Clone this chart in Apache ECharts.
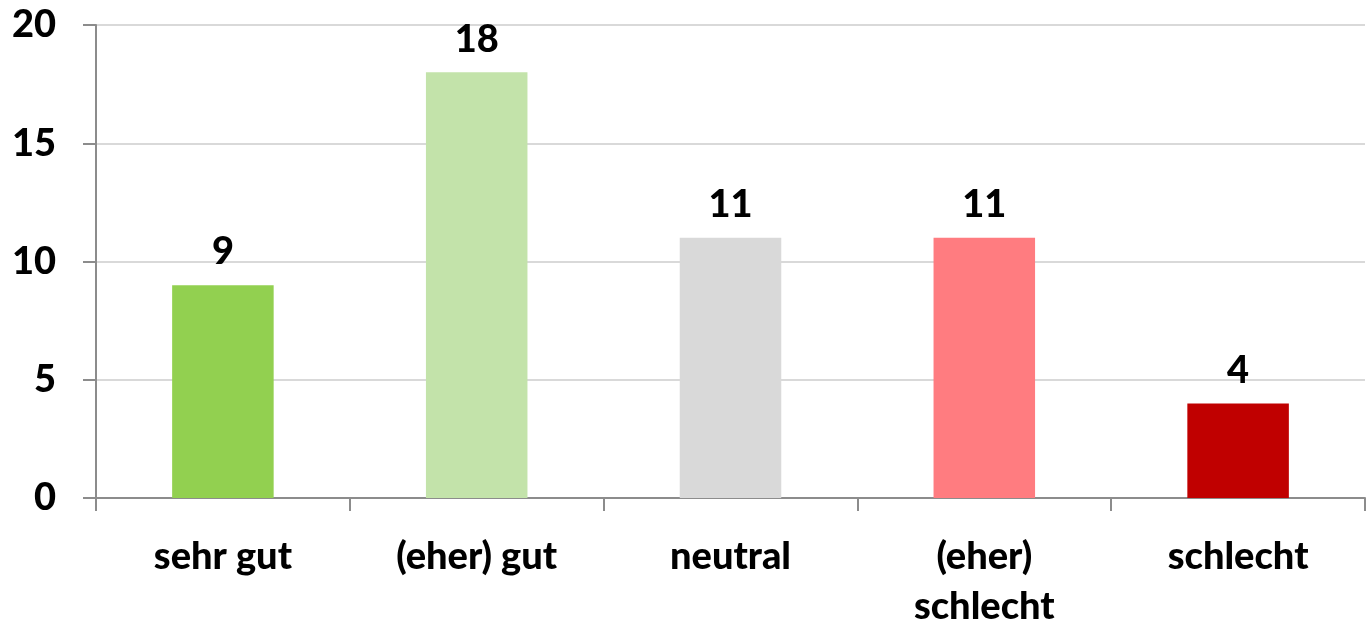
<!DOCTYPE html>
<html>
<head>
<meta charset="utf-8">
<script src="https://cdn.jsdelivr.net/npm/echarts@6/dist/echarts.min.js"></script>
<style>
  html, body { margin: 0; padding: 0; background: #fff; }
  #chart { width: 1366px; height: 623px; }
</style>
</head>
<body>
<div id="chart"></div>
<script>
// Ratings and their counts
const categories = ['sehr gut', '(eher) gut', 'neutral', '(eher)\nschlecht', 'schlecht'];
const counts = [9, 18, 11, 11, 4];
const barColors = ['#92d050', '#c3e3aa', '#d9d9d9', '#ff7c80', '#c00000'];

const FONT = 'Lato';
const WEIGHT = 900;
const SIZE = 38;
const chart = echarts.init(document.getElementById('chart'), null, { renderer: 'canvas' });

chart.setOption({
  animation: false,
  backgroundColor: '#ffffff',
  grid: { left: 96, right: 1, top: 25, bottom: 125, containLabel: false, outerBoundsMode: 'none' },
  xAxis: {
    type: 'category',
    data: categories,
    axisLine: { lineStyle: { color: '#8c8c8c', width: 2 } },
    axisTick: { show: true, length: 13, lineStyle: { color: '#8c8c8c', width: 2 } },
    axisLabel: {
      color: '#000', fontFamily: FONT, fontWeight: WEIGHT, fontSize: SIZE,
      lineHeight: 50, margin: 34, verticalAlign: 'top'
    }
  },
  yAxis: {
    type: 'value',
    min: 0, max: 20, interval: 5,
    axisLine: { show: true, lineStyle: { color: '#8c8c8c', width: 2 } },
    axisTick: { show: true, length: 13, lineStyle: { color: '#8c8c8c', width: 2 } },
    splitLine: { lineStyle: { color: '#d9d9d9', width: 2 } },
    axisLabel: {
      color: '#000', fontFamily: FONT, fontWeight: WEIGHT, fontSize: SIZE, margin: 40
    }
  },
  series: [{
    type: 'bar',
    data: counts.map((v, i) => ({ value: v, itemStyle: { color: barColors[i] } })),
    barWidth: '40%',
    label: {
      show: true, position: 'top', distance: 14,
      color: '#000', fontFamily: FONT, fontWeight: WEIGHT, fontSize: SIZE
    }
  }]
});
</script>
</body>
</html>
